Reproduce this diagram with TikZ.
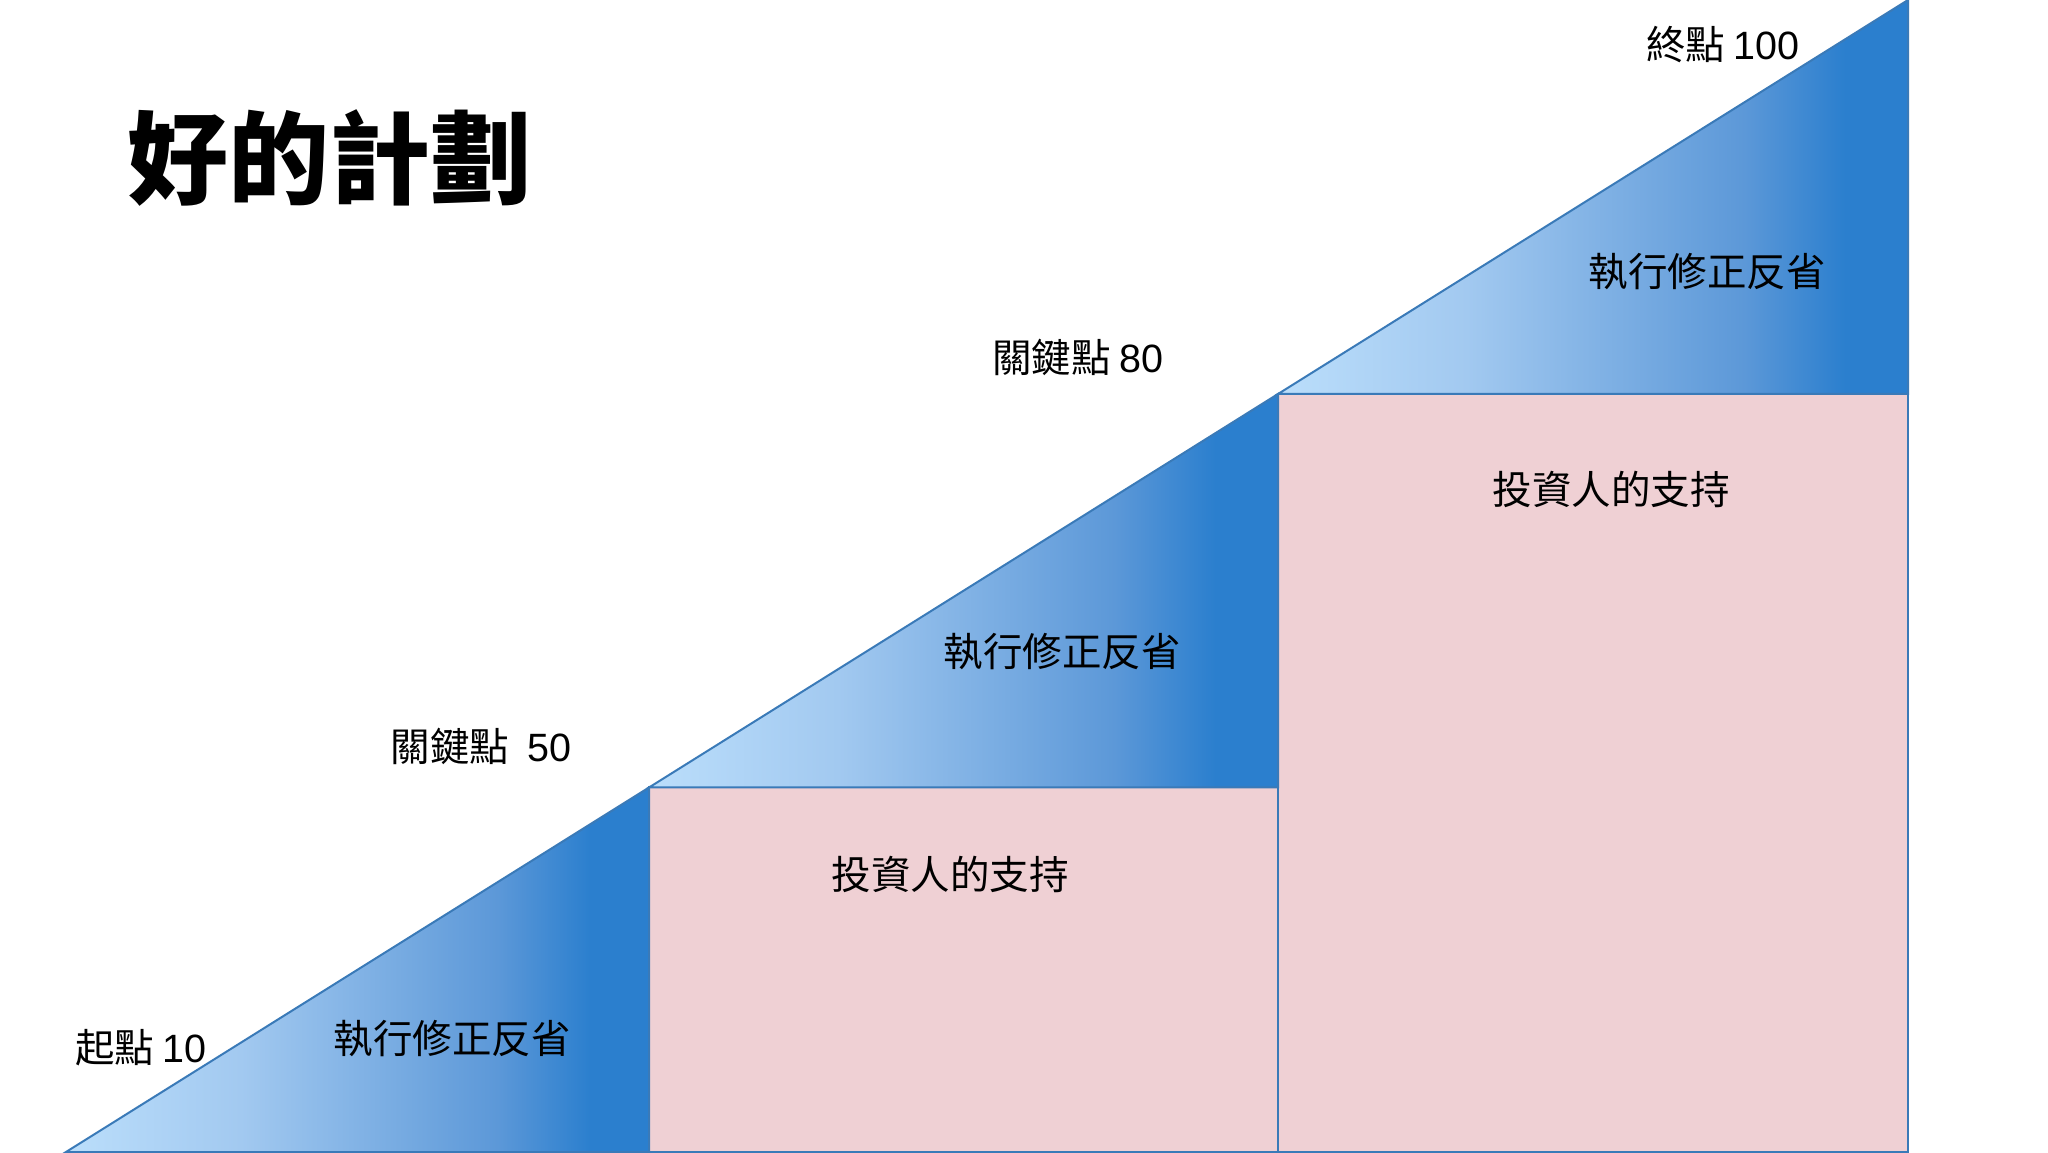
\documentclass[tikz,border=0pt]{standalone}
\usepackage{fontspec}
\newfontfamily\cjk{Noto Sans CJK TC}
\newfontfamily\lat{Liberation Sans}
\definecolor{gA}{RGB}{187,222,251}
\definecolor{gB}{RGB}{162,201,240}
\definecolor{gC}{RGB}{92,152,216}
\definecolor{gD}{RGB}{43,127,206}
\definecolor{pinkfill}{RGB}{239,208,212}
\definecolor{edge}{RGB}{58,122,184}
\pgfdeclarehorizontalshading{bluegrad}{100bp}{color(0bp)=(gA); color(25bp)=(gA); color(40bp)=(gB); color(62bp)=(gC); color(70bp)=(gD); color(75bp)=(gD); color(100bp)=(gD)}
\tikzset{
  tri/.style={shading=bluegrad, draw=edge, line width=2pt, line join=miter},
  rectbox/.style={fill=pinkfill, draw=edge, line width=2pt},
  lbl/.style={inner sep=0pt, font=\cjk\fontsize{39.5}{41}\selectfont, text=black},
  ttl/.style={inner sep=0pt, font=\cjk\bfseries\fontsize{101}{104}\selectfont, text=black}
}
\begin{document}
\begin{tikzpicture}[x=1pt,y=1pt]
\useasboundingbox (0,0) rectangle (2048,1152);
\fill[white] (0,0) rectangle (2048,1152);
\coordinate (A) at (66,0);
\coordinate (B) at (649,364.5);
\coordinate (Bb) at (649,0);
\coordinate (C) at (1278,758);
\coordinate (Cb) at (1278,364.5);
\coordinate (Cf) at (1278,0);
\coordinate (D) at (1908,1152);
\coordinate (Db) at (1908,758);
\coordinate (Df) at (1908,0);
% pink rectangles
\path[rectbox] (Bb) rectangle (Cb);
\path[rectbox] (Cf) rectangle (Db);
% gradient triangles
\shadedraw[tri] (A) -- (B) -- (Bb) -- cycle;
\shadedraw[tri] (B) -- (C) -- (Cb) -- cycle;
\shadedraw[tri] (C) -- (D) -- (Db) -- cycle;
% texts
\node[ttl] (title) at (329,994) {好的計劃};
\node[lbl] (start) at (141,104) {起點 {\lat 10}};
\node[lbl] (exec1) at (452,113) {執行修正反省};
\node[lbl] (key50) at (481,406) {關鍵點\ \ {\lat 50}};
\node[lbl] (exec2) at (1062,500) {執行修正反省};
\node[lbl] (inv1) at (950,278) {投資人的支持};
\node[lbl] (key80) at (1078,795) {關鍵點 {\lat 80}};
\node[lbl] (exec3) at (1707,880) {執行修正反省};
\node[lbl] (inv2) at (1611,663) {投資人的支持};
\node[lbl] (end) at (1723,1107) {終點 {\lat 100}};
\end{tikzpicture}
\end{document}
